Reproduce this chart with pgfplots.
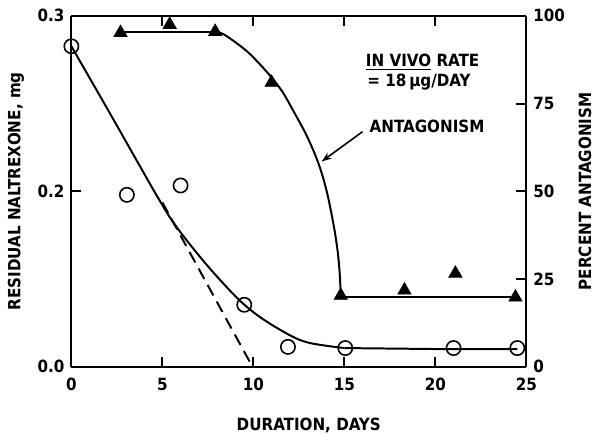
\documentclass[border=0pt]{standalone}
\usepackage{fontspec}
\setmainfont{DejaVu Sans Condensed}
\usepackage{pgfplots}
\pgfplotsset{compat=1.18}
\usetikzlibrary{arrows.meta}
\begin{document}
\begin{tikzpicture}
\pgfplotsset{
  every axis/.append style={
    scale only axis, width=229.5pt, height=177pt,
    xmin=0, xmax=25,
    axis line style={line width=1pt},
    tick style={line width=1pt, black},
    major tick length=5pt,
    /pgf/number format/assume math mode=true,
    tick label style={font=\fontsize{8.5}{10}\selectfont\bfseries},
    label style={font=\fontsize{8.5}{10}\selectfont\bfseries},
  }
}
\begin{axis}[
  axis y line*=left,
  ymin=0, ymax=0.3,
  ytick={0,0.15,0.3}, yticklabels={0.0,0.2,0.3},
  xtick={0,5,10,15,20,25},
  xticklabel style={yshift=-2pt},
  xlabel={DURATION, DAYS},
  xlabel style={yshift=-7pt, xshift=5pt},
  ylabel={RESIDUAL NALTREXONE, mg},
]
\addplot[black, line width=1pt, smooth, tension=0.6] coordinates {
  (0,0.274) (2.07,0.218) (3.53,0.178) (4.78,0.144) (5.71,0.121) (7.12,0.093)
  (8.42,0.070) (9.51,0.053) (10.6,0.040) (12.0,0.027) (12.93,0.021) (14,0.018) (15,0.016)};
\addplot[black, line width=1pt] coordinates {(15,0.016) (21,0.015) (24.5,0.015)};
\addplot[black, line width=1pt, dash pattern=on 6pt off 3.5pt] coordinates {(5.0,0.1405) (9.95,0)};
\addplot[only marks, mark=o, mark size=3.6pt, mark options={fill=white, line width=0.8pt, black}] coordinates {
  (0,0.274) (3.05,0.147) (6.0,0.155) (9.5,0.053) (11.9,0.017) (15.05,0.016) (21.0,0.016) (24.5,0.016)};
\end{axis}
\begin{axis}[
  axis y line*=right, axis x line=none,
  ymin=0, ymax=100,
  ytick={0,25,50,75,100},
  ylabel={PERCENT ANTAGONISM},
]
\addplot[black, line width=1pt] coordinates {(2.7,95.5) (7.9,95.5)};
\addplot[black, line width=1pt, smooth, tension=0.5] coordinates {
  (7.9,95.5) (8.42,94.6) (9.67,89.8) (10.76,83.9) (11.58,78.5) (12.23,72.6) (12.82,67.0)
  (13.26,62.1) (13.58,57.9) (13.84,53.7) (14.12,48.0) (14.44,39.5) (14.64,32.5)
  (14.74,26.8) (14.79,22.0) (14.80,20)};
\addplot[black, line width=1pt] coordinates {(14.8,20) (24.4,20)};
\addplot[only marks, mark=triangle*, mark size=3.8pt, mark options={fill=black, black}] coordinates {
  (2.7,95.2) (5.4,97.5) (7.9,95.5) (11.0,81) (14.8,20.3) (18.3,21.8) (21.1,26.6) (24.4,19.8)};
\node[font=\fontsize{8.5}{10}\selectfont\bfseries] at (axis cs:19.3,86.7) {\underline{IN VIVO} RATE};
\node[font=\fontsize{8.5}{10}\selectfont\bfseries] at (axis cs:19.1,81.2) {= 18\,µg/DAY};
\node[font=\fontsize{8.5}{10}\selectfont\bfseries, anchor=west] at (axis cs:16.0,68.4) {ANTAGONISM};
\draw[-{Stealth[length=5pt,width=3.5pt]}, line width=0.8pt] (axis cs:16.0,67) -- (axis cs:13.75,58.5);
\end{axis}
\path[use as bounding box] ([shift={(-36pt,-32pt)}]current axis.south west) rectangle ([shift={(33.5pt,8pt)}]current axis.north east);
\end{tikzpicture}
\end{document}
